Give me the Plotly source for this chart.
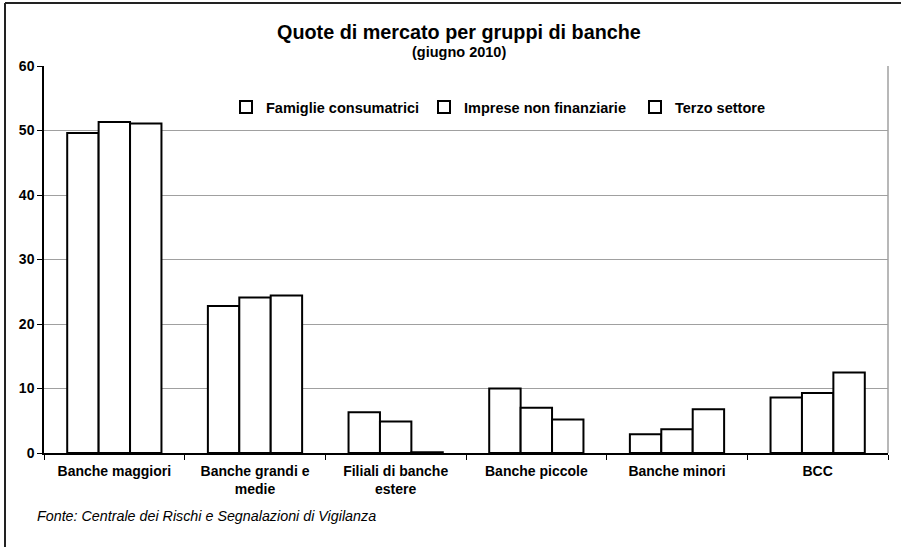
import plotly.graph_objects as go

# Bank groups and market shares (%) by customer sector, June 2010
categories = [
    "Banche maggiori",
    "Banche grandi e<br>medie",
    "Filiali di banche<br>estere",
    "Banche piccole",
    "Banche minori",
    "BCC",
]
famiglie = [49.6, 22.8, 6.3, 10.0, 2.9, 8.6]
imprese = [51.3, 24.1, 4.9, 7.0, 3.7, 9.3]
terzo = [51.1, 24.4, 0.1, 5.2, 6.8, 12.5]

series = [
    ("Famiglie consumatrici", famiglie, "legend"),
    ("Imprese non finanziarie", imprese, "legend2"),
    ("Terzo settore", terzo, "legend3"),
]

W, H = 901, 547
ML, MR, MT, MB = 44, 13, 66, 94
PW, PH = W - ML - MR, H - MT - MB

def px_x(p):
    return (p - ML) / PW

def px_y(p):
    return (H - MB - p) / PH

FONT = "Liberation Sans, Arial, sans-serif"

fig = go.Figure()
for name, vals, leg in series:
    fig.add_trace(go.Bar(
        x=categories, y=vals, name=name, legend=leg, showlegend=True,
        marker=dict(color="white", line=dict(color="black", width=2)),
    ))

legend_style = dict(
    orientation="h", yanchor="middle", xanchor="left",
    bgcolor="rgba(0,0,0,0)", borderwidth=0,
    font=dict(family=FONT, size=14.5, color="black", weight="bold"),
    itemwidth=30, visible=True,
)
fig.update_layout(
    width=W, height=H,
    margin=dict(l=ML, r=MR, t=MT, b=MB),
    paper_bgcolor="white", plot_bgcolor="white",
    barmode="group", bargap=0.33, bargroupgap=0,
    showlegend=True,
    font=dict(family=FONT, size=14, color="black"),
    legend=dict(x=px_x(226), y=px_y(107), **legend_style),
    legend2=dict(x=px_x(424), y=px_y(107), **legend_style),
    legend3=dict(x=px_x(635), y=px_y(107), **legend_style),
    xaxis=dict(
        showline=True, linecolor="black", linewidth=1.5,
        ticks="outside", ticklen=5, tickcolor="black", tickwidth=1,
        tickson="boundaries", showgrid=False, ticklabelstandoff=4,
        tickfont=dict(family=FONT, size=14, color="black", weight="bold"),
    ),
    yaxis=dict(
        range=[0, 60], dtick=10, showline=True, linecolor="black", linewidth=1.5,
        ticks="outside", ticklen=5, tickcolor="black", tickwidth=1,
        showgrid=True, gridcolor="#a0a0a0", gridwidth=1, zeroline=False,
        tickfont=dict(family=FONT, size=14, color="black", weight="bold"),
    ),
)

# Right edge of the plot frame
fig.add_shape(type="line", xref="x domain", yref="y domain",
              x0=1, x1=1, y0=0, y1=1, line=dict(color="#a0a0a0", width=1.5))

# Chart frame (left and top edges)
fig.add_shape(type="line", xref="paper", yref="paper",
              x0=px_x(5), x1=px_x(5), y0=px_y(3), y1=px_y(H + 5),
              line=dict(color="#222", width=2))
fig.add_shape(type="line", xref="paper", yref="paper",
              x0=px_x(5), x1=px_x(W + 5), y0=px_y(3), y1=px_y(3),
              line=dict(color="#222", width=2))

fig.add_annotation(text="<b>Quote di mercato per gruppi di banche</b>",
                   xref="paper", yref="paper", x=px_x(459), y=px_y(32),
                   xanchor="center", yanchor="middle", showarrow=False,
                   font=dict(family=FONT, size=19.8, color="black"))
fig.add_annotation(text="<b>(giugno 2010)</b>",
                   xref="paper", yref="paper", x=px_x(459), y=px_y(52),
                   xanchor="center", yanchor="middle", showarrow=False,
                   font=dict(family=FONT, size=14.5, color="black"))
fig.add_annotation(text="<i>Fonte: Centrale dei Rischi e Segnalazioni di Vigilanza</i>",
                   xref="paper", yref="paper", x=px_x(35), y=px_y(516),
                   xanchor="left", yanchor="middle", showarrow=False,
                   font=dict(family=FONT, size=14.3, color="black"))

fig.write_html("out.html")
